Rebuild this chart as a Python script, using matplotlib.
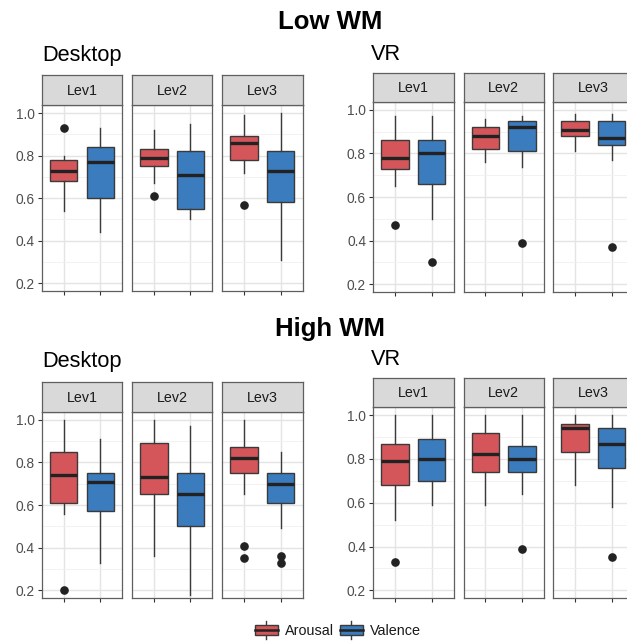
import numpy as np
import matplotlib
matplotlib.use("Agg")
import matplotlib.pyplot as plt
from matplotlib.patches import Patch, Rectangle
from matplotlib.lines import Line2D
from matplotlib.legend_handler import HandlerBase

plt.rcParams["font.family"] = ["Liberation Sans", "DejaVu Sans"]

# ---------------------------------------------------------------------------
# Data. Order inside every list:
# Lev1-Arousal, Lev1-Valence, Lev2-Arousal, Lev2-Valence, Lev3-Arousal, Lev3-Valence
# ---------------------------------------------------------------------------
LEVELS = ["Lev1", "Lev2", "Lev3"]
GROUPS = ["Arousal", "Valence"]

low_desktop_whislo = [0.54, 0.44, 0.67, 0.50, 0.72, 0.31]
low_desktop_q1     = [0.68, 0.60, 0.75, 0.55, 0.78, 0.58]
low_desktop_med    = [0.73, 0.77, 0.79, 0.71, 0.86, 0.73]
low_desktop_q3     = [0.78, 0.84, 0.83, 0.82, 0.89, 0.82]
low_desktop_whishi = [0.80, 0.93, 0.92, 0.95, 0.99, 1.00]
low_desktop_fliers = [[0.93], [], [0.61], [], [0.57], []]

low_vr_whislo = [0.65, 0.50, 0.76, 0.74, 0.81, 0.77]
low_vr_q1     = [0.73, 0.66, 0.82, 0.81, 0.88, 0.84]
low_vr_med    = [0.78, 0.80, 0.88, 0.92, 0.91, 0.87]
low_vr_q3     = [0.86, 0.86, 0.92, 0.95, 0.95, 0.95]
low_vr_whishi = [0.97, 0.97, 0.96, 0.97, 0.98, 0.98]
low_vr_fliers = [[0.47], [0.30], [], [0.39], [], [0.37]]

high_desktop_whislo = [0.56, 0.33, 0.36, 0.18, 0.65, 0.49]
high_desktop_q1     = [0.61, 0.57, 0.65, 0.50, 0.75, 0.61]
high_desktop_med    = [0.74, 0.71, 0.73, 0.65, 0.82, 0.70]
high_desktop_q3     = [0.85, 0.75, 0.89, 0.75, 0.87, 0.75]
high_desktop_whishi = [1.00, 0.91, 1.00, 0.97, 1.00, 0.85]
high_desktop_fliers = [[0.20], [], [], [], [0.41, 0.35], [0.36, 0.33]]

high_vr_whislo = [0.52, 0.59, 0.59, 0.64, 0.68, 0.58]
high_vr_q1     = [0.68, 0.70, 0.74, 0.74, 0.83, 0.76]
high_vr_med    = [0.79, 0.80, 0.82, 0.80, 0.94, 0.87]
high_vr_q3     = [0.87, 0.89, 0.92, 0.86, 0.96, 0.94]
high_vr_whishi = [1.00, 1.00, 1.00, 1.00, 1.00, 1.00]
high_vr_fliers = [[0.33], [], [], [0.39], [], [0.35]]

# ---------------------------------------------------------------------------
# Style
# ---------------------------------------------------------------------------
W, H = 627, 642
COLORS = {"Arousal": "#D5565A", "Valence": "#3A7CBE"}
EDGE = "#3a3a3a"
BORDER = "#5f5f5f"
STRIP_BG = "#D9D9D9"
GRID = "#E4E4E4"
GRID_MINOR = "#F0F0F0"
TICK_TXT = "#4D4D4D"
YLIM = (0.165, 1.038)


def fig_rect(x0, x1, y0, y1):
    """pixel box (from top-left) -> figure fraction rect"""
    return [x0 / W, 1 - y1 / H, (x1 - x0) / W, (y1 - y0) / H]


def make_stats(wlo, q1, med, q3, whi, fl, k):
    return [dict(whislo=wlo[i], q1=q1[i], med=med[i], q3=q3[i],
                 whishi=whi[i], fliers=fl[i], label=GROUPS[i - k])
            for i in (k, k + 1)]


def draw_group(fig, lefts, width, y_plot, y_strip, arrays):
    for j, lev in enumerate(LEVELS):
        x0 = lefts[j]
        ax = fig.add_axes(fig_rect(x0, x0 + width, *y_plot))
        stats = make_stats(*arrays, 2 * j)
        bp = ax.bxp(stats, positions=[1, 2], widths=0.75, patch_artist=True,
                    showfliers=True,
                    boxprops=dict(edgecolor=EDGE, linewidth=1.0),
                    medianprops=dict(color="#222222", linewidth=2.4),
                    whiskerprops=dict(color=EDGE, linewidth=1.0),
                    capprops=dict(linewidth=0),
                    flierprops=dict(marker="o", markersize=5.2,
                                    markerfacecolor="#222222",
                                    markeredgecolor="#222222"))
        for patch, g in zip(bp["boxes"], GROUPS):
            patch.set_facecolor(COLORS[g])
        ax.set_xlim(0.4, 2.6)
        ax.set_ylim(*YLIM)
        ax.set_yticks([0.2, 0.4, 0.6, 0.8, 1.0])
        ax.set_yticks([0.3, 0.5, 0.7, 0.9], minor=True)
        ax.set_xticks([1, 2])
        ax.set_xticklabels(["", ""])
        ax.grid(True, which="major", color=GRID, lw=1.0)
        ax.grid(True, which="minor", axis="y", color=GRID_MINOR, lw=0.6)
        ax.set_axisbelow(True)
        ax.tick_params(axis="both", which="major", length=3, width=0.8,
                       color="#333333", labelsize=9.9, labelcolor=TICK_TXT,
                       pad=2)
        ax.tick_params(axis="y", which="minor", length=0)
        if j > 0:
            ax.tick_params(axis="y", which="major", length=0, labelleft=False)
        else:
            ax.set_yticklabels(["0.2", "0.4", "0.6", "0.8", "1.0"])
        for sp in ax.spines.values():
            sp.set_color(BORDER)
            sp.set_linewidth(0.9)

        sax = fig.add_axes(fig_rect(x0, x0 + width, *y_strip))
        sax.set_facecolor(STRIP_BG)
        sax.set_xticks([])
        sax.set_yticks([])
        for sp in sax.spines.values():
            sp.set_color(BORDER)
            sp.set_linewidth(0.9)
        sax.text(0.5, 0.47, lev, ha="center", va="center", fontsize=10.3,
                 color="#1A1A1A", transform=sax.transAxes)


class BoxKey(HandlerBase):
    def create_artists(self, legend, orig_handle, xd, yd, width, height,
                       fontsize, trans):
        x0, y0 = -xd, -yd
        cx = x0 + width / 2
        lw = 1.0
        lo = Line2D([cx, cx], [y0 - 0.25 * height, y0 + 0.05 * height],
                    color=EDGE, lw=lw, transform=trans)
        hi = Line2D([cx, cx], [y0 + 0.95 * height, y0 + 1.25 * height],
                    color=EDGE, lw=lw, transform=trans)
        box = Rectangle((x0, y0 + 0.05 * height), width, 0.9 * height,
                        facecolor=orig_handle.get_facecolor(), edgecolor=EDGE,
                        lw=lw, transform=trans)
        med = Line2D([x0, x0 + width], [y0 + 0.5 * height] * 2,
                     color="#222222", lw=1.8, transform=trans)
        return [lo, hi, box, med]


fig = plt.figure(figsize=(W / 100, H / 100), dpi=100)
fig.patch.set_facecolor("white")

desk_lefts = [41.7, 131.9, 222.1]
vr_lefts = [373.0, 463.5, 553.0]
pw = 80.5

# Low WM
fig.text(330 / W, 1 - 29 / H, "Low WM", ha="center", va="baseline",
         fontsize=18.5, fontweight="bold")
fig.text(42 / W, 1 - 61 / H, "Desktop", ha="left", va="baseline", fontsize=15.7)
fig.text(371 / W, 1 - 60 / H, "VR", ha="left", va="baseline", fontsize=15.7)
draw_group(fig, desk_lefts, pw, (105, 290.7), (75, 105),
           (low_desktop_whislo, low_desktop_q1, low_desktop_med,
            low_desktop_q3, low_desktop_whishi, low_desktop_fliers))
draw_group(fig, vr_lefts, pw, (101.7, 291.7), (72.7, 101.7),
           (low_vr_whislo, low_vr_q1, low_vr_med,
            low_vr_q3, low_vr_whishi, low_vr_fliers))

# High WM
fig.text(330 / W, 1 - 336 / H, "High WM", ha="center", va="baseline",
         fontsize=18.5, fontweight="bold")
fig.text(42 / W, 1 - 367 / H, "Desktop", ha="left", va="baseline", fontsize=15.7)
fig.text(371 / W, 1 - 365 / H, "VR", ha="left", va="baseline", fontsize=15.7)
draw_group(fig, desk_lefts, pw, (411.7, 597.7), (381.7, 411.7),
           (high_desktop_whislo, high_desktop_q1, high_desktop_med,
            high_desktop_q3, high_desktop_whishi, high_desktop_fliers))
draw_group(fig, vr_lefts, pw, (406.7, 598), (378.3, 406.7),
           (high_vr_whislo, high_vr_q1, high_vr_med,
            high_vr_q3, high_vr_whishi, high_vr_fliers))

# legend
handles = [Patch(facecolor=COLORS[g], label=g) for g in GROUPS]
fig.legend(handles=handles, loc="center", bbox_to_anchor=(338 / W, 1 - 631 / H),
           ncol=2, frameon=False, fontsize=10.4, handler_map={Patch: BoxKey()},
           handlelength=1.55, handleheight=0.9, handletextpad=0.5,
           columnspacing=0.45, labelcolor="#1A1A1A")

fig.savefig("out.png", dpi=100, facecolor="white")
